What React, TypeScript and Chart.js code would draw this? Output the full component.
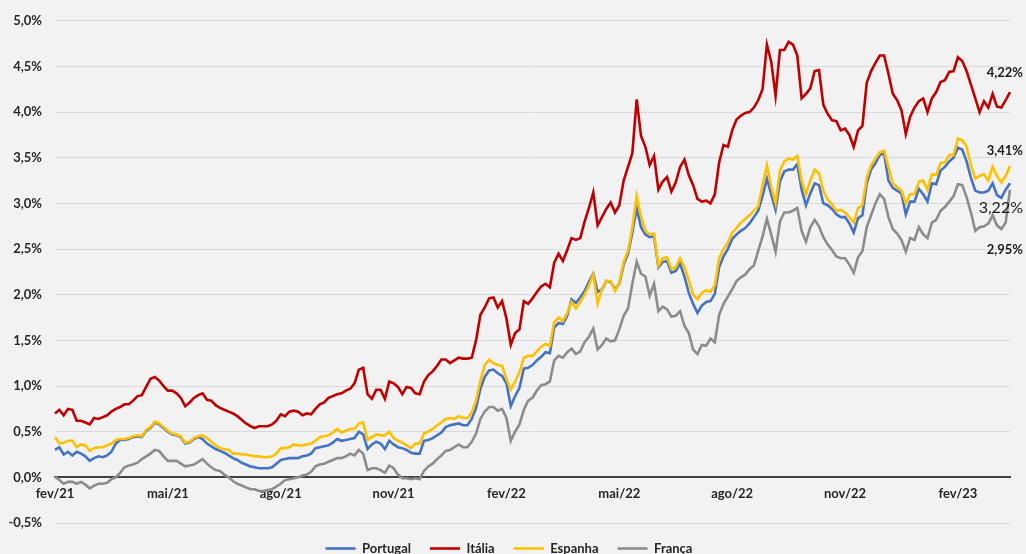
import React, { useEffect, useRef } from "react";
import { Chart, registerables } from "chart.js";

Chart.register(...registerables);

// Quarterly tick labels (every 26 half-week points)
const tickLabels = ["fev/21", "mai/21", "ago/21", "nov/21", "fev/22", "mai/22", "ago/22", "nov/22", "fev/23"];
const TICK_EVERY = 26;

// Twice-weekly 10-year yields (%), Feb 2021 – Mar 2023
const portugal = [
  0.30, 0.33, 0.25, 0.28, 0.24, 0.28, 0.26, 0.23, 0.18, 0.21,
  0.23, 0.22, 0.24, 0.28, 0.37, 0.41, 0.41, 0.42, 0.44, 0.45,
  0.44, 0.51, 0.54, 0.60, 0.58, 0.54, 0.50, 0.47, 0.46, 0.44,
  0.37, 0.38, 0.42, 0.44, 0.42, 0.37, 0.34, 0.31, 0.29, 0.27,
  0.24, 0.21, 0.19, 0.16, 0.14, 0.12, 0.11, 0.10, 0.10, 0.10,
  0.11, 0.15, 0.19, 0.20, 0.21, 0.21, 0.21, 0.23, 0.24, 0.26,
  0.32, 0.33, 0.34, 0.35, 0.38, 0.42, 0.40, 0.41, 0.42, 0.43,
  0.50, 0.47, 0.31, 0.36, 0.39, 0.37, 0.31, 0.40, 0.36, 0.33,
  0.32, 0.30, 0.27, 0.26, 0.26, 0.40, 0.41, 0.43, 0.46, 0.49,
  0.55, 0.57, 0.58, 0.59, 0.57, 0.57, 0.64, 0.76, 0.97, 1.10,
  1.17, 1.18, 1.14, 1.11, 1.03, 0.78, 0.89, 0.98, 1.19, 1.20,
  1.23, 1.28, 1.32, 1.37, 1.36, 1.64, 1.69, 1.68, 1.77, 1.95,
  1.91, 1.97, 2.04, 2.14, 2.23, 2.03, 2.06, 2.15, 2.14, 2.06,
  2.12, 2.33, 2.45, 2.68, 2.95, 2.74, 2.66, 2.63, 2.64, 2.30,
  2.36, 2.37, 2.24, 2.26, 2.34, 2.20, 2.02, 1.90, 1.80, 1.88,
  1.92, 1.93, 2.01, 2.30, 2.42, 2.50, 2.61, 2.66, 2.70, 2.73,
  2.78, 2.85, 2.92, 3.08, 3.27, 3.10, 2.93, 3.24, 3.35, 3.37,
  3.37, 3.43, 3.15, 2.98, 3.11, 3.22, 3.20, 3.00, 2.98, 2.94,
  2.88, 2.85, 2.85, 2.78, 2.68, 2.84, 2.87, 3.22, 3.37, 3.44,
  3.53, 3.55, 3.25, 3.17, 3.14, 3.11, 2.88, 3.02, 3.02, 3.16,
  3.10, 3.02, 3.22, 3.21, 3.36, 3.40, 3.46, 3.50, 3.61, 3.59,
  3.46, 3.28, 3.14, 3.12, 3.12, 3.14, 3.22, 3.09, 3.06, 3.15,
  3.22,
];

const italia = [
  0.70, 0.74, 0.68, 0.75, 0.74, 0.62, 0.62, 0.60, 0.58, 0.65,
  0.64, 0.66, 0.68, 0.72, 0.75, 0.77, 0.80, 0.80, 0.84, 0.89,
  0.90, 0.99, 1.08, 1.10, 1.06, 1.00, 0.95, 0.95, 0.92, 0.87,
  0.78, 0.82, 0.87, 0.90, 0.92, 0.85, 0.84, 0.79, 0.76, 0.74,
  0.72, 0.70, 0.67, 0.63, 0.59, 0.56, 0.54, 0.56, 0.56, 0.56,
  0.58, 0.62, 0.69, 0.67, 0.72, 0.73, 0.72, 0.68, 0.70, 0.69,
  0.75, 0.80, 0.82, 0.87, 0.89, 0.91, 0.92, 0.95, 0.97, 1.03,
  1.18, 1.20, 0.91, 0.86, 0.96, 0.96, 0.86, 1.05, 1.03, 0.99,
  0.91, 0.99, 0.98, 0.92, 0.91, 1.05, 1.12, 1.16, 1.22, 1.29,
  1.29, 1.25, 1.28, 1.31, 1.30, 1.30, 1.31, 1.50, 1.78, 1.86,
  1.96, 1.97, 1.86, 1.93, 1.74, 1.45, 1.58, 1.62, 1.93, 1.90,
  1.96, 2.03, 2.09, 2.12, 2.08, 2.35, 2.45, 2.37, 2.49, 2.62,
  2.60, 2.62, 2.80, 2.95, 3.12, 2.76, 2.85, 2.94, 3.01, 2.90,
  2.98, 3.25, 3.40, 3.55, 4.14, 3.74, 3.62, 3.42, 3.52, 3.15,
  3.24, 3.29, 3.13, 3.23, 3.40, 3.48, 3.31, 3.20, 3.05, 3.02,
  3.03, 3.00, 3.10, 3.45, 3.64, 3.62, 3.80, 3.92, 3.96, 3.99,
  4.00, 4.05, 4.13, 4.25, 4.74, 4.55, 4.18, 4.68, 4.68, 4.77,
  4.74, 4.62, 4.15, 4.20, 4.26, 4.45, 4.46, 4.08, 3.98, 3.91,
  3.90, 3.80, 3.82, 3.75, 3.62, 3.80, 3.85, 4.32, 4.45, 4.54,
  4.62, 4.62, 4.42, 4.20, 4.13, 4.02, 3.76, 3.95, 4.05, 4.12,
  4.15, 4.00, 4.15, 4.22, 4.33, 4.35, 4.44, 4.45, 4.60, 4.56,
  4.45, 4.30, 4.15, 4.00, 4.12, 4.05, 4.20, 4.06, 4.05, 4.13,
  4.22,
];

const espanha = [
  0.44, 0.37, 0.38, 0.40, 0.40, 0.33, 0.36, 0.35, 0.29, 0.32,
  0.33, 0.33, 0.35, 0.37, 0.41, 0.42, 0.42, 0.43, 0.45, 0.46,
  0.45, 0.52, 0.55, 0.61, 0.59, 0.55, 0.51, 0.48, 0.47, 0.45,
  0.38, 0.39, 0.43, 0.45, 0.46, 0.43, 0.39, 0.35, 0.32, 0.31,
  0.30, 0.26, 0.26, 0.25, 0.25, 0.24, 0.23, 0.23, 0.22, 0.22,
  0.23, 0.26, 0.32, 0.32, 0.33, 0.36, 0.35, 0.35, 0.36, 0.37,
  0.40, 0.44, 0.45, 0.46, 0.49, 0.53, 0.49, 0.51, 0.53, 0.53,
  0.59, 0.60, 0.41, 0.44, 0.47, 0.46, 0.46, 0.50, 0.43, 0.40,
  0.38, 0.35, 0.32, 0.37, 0.37, 0.48, 0.50, 0.53, 0.57, 0.60,
  0.64, 0.65, 0.64, 0.67, 0.65, 0.65, 0.71, 0.84, 1.06, 1.23,
  1.29, 1.25, 1.23, 1.22, 1.08, 0.96, 1.05, 1.15, 1.31, 1.33,
  1.33, 1.38, 1.43, 1.46, 1.44, 1.70, 1.75, 1.71, 1.80, 1.92,
  1.85, 1.92, 2.00, 2.10, 2.22, 1.90, 2.06, 2.15, 2.15, 2.04,
  2.13, 2.36, 2.48, 2.74, 3.08, 2.86, 2.70, 2.66, 2.67, 2.32,
  2.40, 2.41, 2.28, 2.30, 2.40, 2.30, 2.16, 2.00, 1.95, 2.02,
  2.05, 2.03, 2.10, 2.40, 2.50, 2.57, 2.68, 2.73, 2.79, 2.83,
  2.87, 2.92, 2.97, 3.20, 3.42, 3.18, 3.00, 3.36, 3.46, 3.49,
  3.48, 3.52, 3.25, 3.10, 3.25, 3.37, 3.33, 3.14, 3.04, 2.99,
  2.92, 2.93, 2.90, 2.85, 2.79, 2.95, 2.98, 3.28, 3.42, 3.49,
  3.56, 3.58, 3.40, 3.22, 3.18, 3.14, 3.00, 3.10, 3.10, 3.24,
  3.25, 3.15, 3.32, 3.31, 3.44, 3.45, 3.53, 3.53, 3.71, 3.69,
  3.62, 3.42, 3.27, 3.30, 3.32, 3.25, 3.40, 3.30, 3.23, 3.30,
  3.41,
];

const franca = [
  0.01, -0.03, -0.07, -0.05, -0.05, -0.07, -0.05, -0.08, -0.12, -0.09,
  -0.07, -0.07, -0.06, -0.02, 0.00, 0.05, 0.11, 0.13, 0.14, 0.16,
  0.20, 0.23, 0.26, 0.30, 0.29, 0.23, 0.18, 0.18, 0.18, 0.15,
  0.12, 0.13, 0.14, 0.17, 0.20, 0.15, 0.11, 0.08, 0.07, 0.03,
  0.00, -0.04, -0.07, -0.09, -0.11, -0.13, -0.13, -0.15, -0.15, -0.14,
  -0.13, -0.10, -0.07, -0.03, -0.02, -0.01, 0.00, 0.02, 0.03, 0.06,
  0.12, 0.14, 0.15, 0.17, 0.19, 0.21, 0.21, 0.23, 0.26, 0.24,
  0.30, 0.26, 0.08, 0.10, 0.10, 0.08, 0.05, 0.13, 0.10, 0.03,
  -0.01, -0.01, -0.02, -0.01, -0.02, 0.07, 0.12, 0.15, 0.20, 0.24,
  0.29, 0.30, 0.33, 0.36, 0.33, 0.33, 0.39, 0.48, 0.64, 0.72,
  0.77, 0.77, 0.73, 0.75, 0.65, 0.40, 0.50, 0.58, 0.74, 0.84,
  0.87, 0.95, 1.01, 1.02, 1.05, 1.28, 1.33, 1.31, 1.37, 1.41,
  1.35, 1.38, 1.48, 1.54, 1.63, 1.40, 1.45, 1.52, 1.49, 1.50,
  1.62, 1.77, 1.85, 2.12, 2.36, 2.23, 2.20, 1.99, 2.12, 1.82,
  1.87, 1.84, 1.76, 1.77, 1.82, 1.66, 1.58, 1.40, 1.35, 1.45,
  1.44, 1.52, 1.48, 1.78, 1.90, 1.98, 2.06, 2.15, 2.19, 2.22,
  2.28, 2.32, 2.48, 2.64, 2.83, 2.66, 2.47, 2.80, 2.90, 2.90,
  2.92, 2.95, 2.70, 2.58, 2.74, 2.82, 2.75, 2.63, 2.55, 2.49,
  2.42, 2.40, 2.40, 2.33, 2.24, 2.41, 2.48, 2.74, 2.87, 3.00,
  3.10, 3.05, 2.85, 2.72, 2.67, 2.60, 2.47, 2.62, 2.60, 2.74,
  2.66, 2.62, 2.79, 2.82, 2.92, 2.96, 3.02, 3.08, 3.21, 3.20,
  3.07, 2.90, 2.70, 2.74, 2.75, 2.78, 2.87, 2.76, 2.72, 2.79,
  3.15,
];

// End-of-series annotation texts
const endLabels = ["4,22%", "3,41%", "3,22%", "2,95%"];

const DAY = 86400000;
const dates = portugal.map((_, i) =>
  new Date(Date.UTC(2021, 1, 1) + Math.round(i * 3.5) * DAY).toISOString().slice(0, 10)
);

const FONT = "Lato, 'Open Sans', sans-serif";

const endLabelPlugin = {
  id: "endLabels",
  afterDatasetsDraw(chart: any) {
    const { ctx, scales } = chart;
    const y = scales.y;
    const last = portugal.length - 1;
    const specs = [
      { text: endLabels[0], value: italia[last], dy: -19, font: `bold 13px ${FONT}` },
      { text: endLabels[1], value: espanha[last], dy: -15, font: `bold 13px ${FONT}` },
      { text: endLabels[2], value: portugal[last], dy: 25, font: `16px ${FONT}` },
      { text: endLabels[3], value: franca[last], dy: 60, font: `bold 13px ${FONT}` },
    ];
    ctx.save();
    ctx.textAlign = "right";
    ctx.textBaseline = "middle";
    ctx.fillStyle = "#1a1a1a";
    specs.forEach((s) => {
      ctx.font = s.font;
      ctx.fillText(s.text, chart.width - 3, y.getPixelForValue(s.value) + s.dy);
    });
    ctx.restore();
  },
};

export default function App() {
  const canvasRef = useRef<HTMLCanvasElement | null>(null);

  useEffect(() => {
    document.body.style.margin = "0";
    document.body.style.background = "#f2f2f2";
    const canvas = canvasRef.current;
    if (!canvas) return;
    const mk = (label: string, data: number[], color: string, order: number) => ({
      label,
      data,
      borderColor: color,
      backgroundColor: color,
      borderWidth: 2.6,
      pointRadius: 0,
      pointHoverRadius: 0,
      tension: 0,
      order,
    });
    const chart = new Chart(canvas, {
      type: "line",
      data: {
        labels: dates,
        datasets: [
          mk("Portugal", portugal, "#4472c4", 4),
          mk("Itália", italia, "#c00000", 3),
          mk("Espanha", espanha, "#ffc000", 2),
          mk("França", franca, "#8c8c8c", 1),
        ],
      },
      options: {
        animation: false,
        responsive: true,
        maintainAspectRatio: false,
        layout: { padding: { left: 8, right: 16, top: 20, bottom: -11 } },
        plugins: {
          legend: {
            position: "bottom",
            labels: {
              usePointStyle: true,
              pointStyle: "line",
              pointStyleWidth: 30,
              padding: 19,
              color: "#262626",
              font: { family: FONT, size: 13, weight: "bold" },
              sort: (a: any, b: any) => a.datasetIndex - b.datasetIndex,
            },
          },
          tooltip: { enabled: false },
        },
        scales: {
          x: {
            type: "category",
            position: { y: 0 } as any,
            offset: false,
            grid: { display: false, drawTicks: false },
            border: { display: true, color: "#404040", width: 2 },
            afterFit: (scale: any) => {
              scale.paddingLeft = 0;
              scale.paddingRight = 0;
            },
            ticks: {
              autoSkip: false,
              maxRotation: 0,
              minRotation: 0,
              padding: 9,
              color: "#262626",
              font: { family: FONT, size: 13, weight: "bold" },
              callback: (_v: any, index: number) =>
                index % TICK_EVERY === 0 ? tickLabels[index / TICK_EVERY] ?? "" : "",
            },
          },
          y: {
            min: -0.5,
            max: 5,
            grid: { color: "#d9d9d9", lineWidth: 1, drawTicks: false },
            border: { display: false },
            afterFit: (scale: any) => {
              scale.width = 47;
            },
            ticks: {
              stepSize: 0.5,
              padding: 13,
              color: "#262626",
              font: { family: FONT, size: 13, weight: "bold" },
              callback: (v: any) => Number(v).toFixed(1).replace(".", ",") + "%",
            },
          },
        },
      },
      plugins: [endLabelPlugin],
    } as any);
    return () => chart.destroy();
  }, []);

  return (
    <div
      style={{
        position: "absolute",
        left: 0,
        top: 0,
        width: 1026,
        height: 554,
        background: "#f2f2f2",
      }}
    >
      <canvas ref={canvasRef} />
    </div>
  );
}
